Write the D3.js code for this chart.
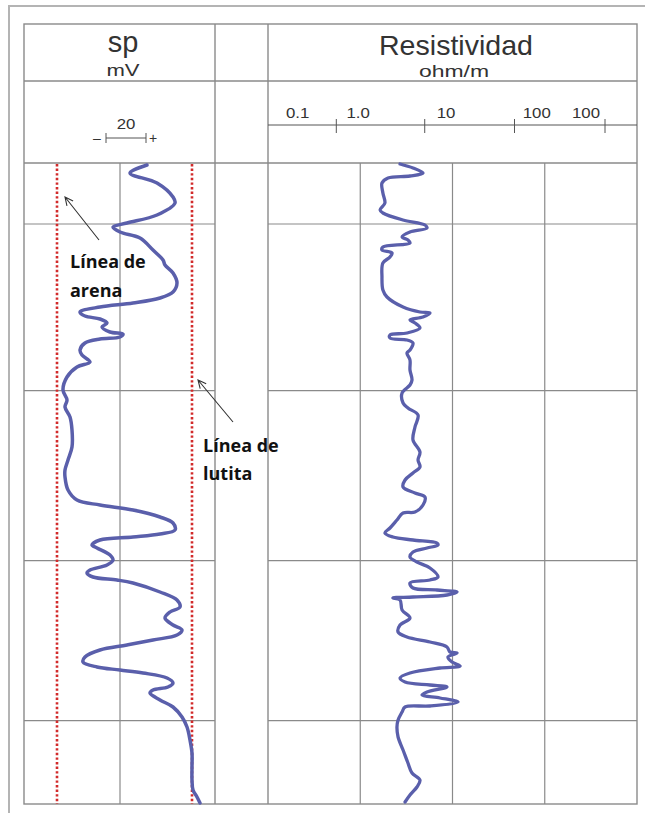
<!DOCTYPE html>
<html>
<head>
<meta charset="utf-8">
<script src="https://d3js.org/d3.v7.min.js"></script>
<style>
  body { margin: 0; background: #fff; }
  svg { display: block; }
</style>
</head>
<body>
<div id="log"></div>
<script>
// SP curve, depth (ft) and deflection (mV, relative to the track centre)
var spDepth = [2482.3, 2484.7, 2487.7, 2491.9, 2493.7, 2497.3, 2499.7, 2500.9, 2502.4, 2504.2,
  2507.8, 2510.8, 2512.3, 2514.7, 2517.7, 2520.4, 2522.2, 2523.7, 2524.9, 2526.4,
  2527.6, 2528.5, 2529.7, 2530.9, 2532.4, 2533.0, 2533.9, 2534.5, 2535.7, 2537.8,
  2539.3, 2541.4, 2542.9, 2545.9, 2549.8, 2552.8, 2554.9, 2557.9, 2561.8, 2566.9,
  2570.8, 2573.8, 2575.9, 2579.8, 2582.8, 2584.3, 2585.8, 2587.9, 2589.7, 2591.8,
  2593.0, 2593.9, 2594.8, 2596.3, 2597.2, 2599.3, 2600.8, 2602.3, 2603.8, 2604.7,
  2605.9, 2606.8, 2607.7, 2610.4, 2612.8, 2614.9, 2616.4, 2618.2, 2620.3, 2621.8,
  2623.3, 2624.8, 2626.3, 2627.8, 2629.9, 2631.4, 2632.9, 2633.8, 2634.7, 2636.2,
  2637.7, 2638.9, 2639.8, 2640.7, 2642.8, 2644.9, 2647.9, 2650.9, 2654.8, 2658.7,
  2662.9, 2666.8, 2669.8, 2671.9, 2673.7];
var spValue = [13.5, 5, 18.5, 26.5, 27.5, 18.5, 3.5, -3.5, 0, 10,
  16.5, 21.5, 22.5, 26.5, 28.5, 26.5, 20, 6.5, -10, -20,
  -17.5, -10, -6.5, -9, -5, 1.5, 0, -10, -17.5, -20,
  -19, -15, -21.5, -26.5, -28.5, -26.5, -27.5, -25, -24, -24,
  -26, -27.5, -27.5, -26, -21.5, -10, 6.5, 20, 26.5, 27.5,
  20, 6.5, -10, -14, -11.5, -5, -3.5, -6.5, -15, -16.5,
  -13.5, -1.5, 6.5, 20, 28.5, 30, 25, 22.5, 26.5, 31,
  28.5, 16.5, 3.5, -10, -17.5, -18.5, -11.5, 0, 11.5, 23.5,
  26.5, 24, 16.5, 15, 20, 26.5, 31, 33.5, 35, 36,
  36, 36, 36.5, 38.5, 40];

// resistivity curve, depth (ft) and ohm.m
var resDepth = [2482.0, 2483.2, 2484.7, 2485.6, 2486.2, 2487.7, 2490.7, 2493.7, 2495.8, 2496.7,
  2498.8, 2500.3, 2501.2, 2502.4, 2503.9, 2504.8, 2505.7, 2506.9, 2507.8, 2508.7,
  2509.9, 2511.7, 2515.9, 2519.8, 2521.9, 2524.9, 2526.4, 2526.7, 2527.9, 2528.8,
  2529.7, 2531.2, 2532.7, 2533.3, 2534.2, 2534.8, 2535.7, 2537.8, 2538.7, 2540.8,
  2543.8, 2546.8, 2548.3, 2550.7, 2553.7, 2555.2, 2557.3, 2560.9, 2564.8, 2568.4,
  2570.8, 2572.9, 2574.7, 2576.8, 2578.9, 2580.7, 2581.9, 2584.3, 2586.4, 2586.7,
  2588.8, 2591.2, 2592.7, 2593.9, 2594.8, 2595.7, 2596.3, 2597.2, 2598.4, 2599.9,
  2601.4, 2603.2, 2605.9, 2606.8, 2607.7, 2609.2, 2609.8, 2610.4, 2611.3, 2611.9,
  2612.2, 2612.8, 2615.8, 2618.2, 2620.3, 2622.4, 2623.9, 2625.4, 2626.9, 2628.4,
  2628.7, 2629.9, 2631.4, 2632.6, 2633.2, 2634.7, 2636.2, 2637.4, 2638.3, 2638.9,
  2640.4, 2641.3, 2642.2, 2643.4, 2644.6, 2644.9, 2646.4, 2648.8, 2650.9, 2653.9,
  2657.8, 2661.7, 2664.7, 2666.8, 2668.9, 2671.3, 2673.4];
var resValue = [2.7, 3.73, 4.79, 3.46, 2.0, 1.72, 1.76, 1.85, 1.64, 1.76,
  2.91, 5.03, 5.29, 3.46, 2.84, 3.29, 3.46, 1.76, 1.72, 2.21,
  2.1, 1.76, 1.72, 1.76, 1.95, 2.91, 4.44, 5.7, 4.79, 3.46,
  3.92, 4.44, 3.21, 2.1, 2.1, 3.21, 3.73, 3.46, 3.21, 3.46,
  3.46, 3.64, 3.46, 2.84, 2.91, 3.29, 4.23, 3.92, 3.73, 4.44,
  4.23, 4.44, 3.73, 3.06, 2.91, 3.92, 5.03, 4.79, 3.92, 2.91,
  2.5, 2.1, 1.85, 2.26, 3.73, 6.79, 6.96, 5.29, 3.73, 3.46,
  4.12, 5.7, 6.96, 5.7, 3.46, 3.73, 6.79, 11.2, 8.71, 3.73,
  2.26, 2.7, 2.84, 3.46, 2.7, 2.57, 3.21, 5.7, 8.71, 9.4,
  11.2, 8.93, 9.88, 12.1, 7.32, 3.46, 2.7, 3.06, 5.7, 8.71,
  5.29, 4.67, 7.32, 11.5, 5.7, 3.06, 2.84, 2.57, 2.5, 2.57,
  2.91, 3.29, 3.64, 4.44, 4.12, 3.46, 3.06];

var gridDepths = [2500, 2550, 2601, 2649];
var spSandLine = -31.5, spShaleLine = 36;
var resGrid = [1, 10, 100];
var resTicks = [0.55, 5, 47, 450];
var resLabels = ["0.1", "1.0", "10", "100", "100"];
var resLabelAt = [0.21, 0.95, 8.5, 82, 280];

var W = 645, H = 813;
var box = { left: 24, right: 637, top: 24, bottom: 804, head1: 81, head2: 163 };
var spTrack = [24, 215], resTrack = [268, 637];
var curveColor = "#5a5fab", gridColor = "#8a8a8a";

var svg = d3.select("#log").append("svg").attr("width", W).attr("height", H);

var y = d3.scaleLinear().domain([2481.7, 2674.0]).range([box.head2, box.bottom]);
var xSp = d3.scaleLinear().domain([-48, 47.5]).range(spTrack);
var xRes = d3.scaleLog().domain([0.1, 1000]).range(resTrack);

// outer picture frame
svg.append("path").attr("d", "M9," + H + "V6H" + W)
  .attr("fill", "none").attr("stroke", "#b4b4b4").attr("stroke-width", 2);

var grid = svg.append("g").attr("stroke", gridColor).attr("stroke-width", 1.2).attr("fill", "none");

// horizontal depth lines, only in the two data tracks
[spTrack, resTrack].forEach(function(t) {
  grid.selectAll(null).data(gridDepths).enter().append("line")
    .attr("x1", t[0]).attr("x2", t[1])
    .attr("y1", function(d) { return y(d); }).attr("y2", function(d) { return y(d); });
});

grid.append("line").attr("x1", xSp(0)).attr("x2", xSp(0)).attr("y1", box.head2).attr("y2", box.bottom);
grid.selectAll(null).data(resGrid).enter().append("line")
  .attr("x1", function(d) { return xRes(d); }).attr("x2", function(d) { return xRes(d); })
  .attr("y1", box.head2).attr("y2", box.bottom);

// table frame
var frame = svg.append("g").attr("stroke", gridColor).attr("stroke-width", 1.4).attr("fill", "none");
frame.append("rect").attr("x", box.left).attr("y", box.top)
  .attr("width", box.right - box.left).attr("height", box.bottom - box.top);
[spTrack[1], resTrack[0]].forEach(function(x) {
  frame.append("line").attr("x1", x).attr("x2", x).attr("y1", box.top).attr("y2", box.bottom);
});
[box.head1, box.head2].forEach(function(h) {
  frame.append("line").attr("x1", box.left).attr("x2", box.right).attr("y1", h).attr("y2", h);
});

// header texts; the original lettering is a bit wider than Liberation Sans,
// so the text gets stretched to the measured width
var font = "'Liberation Sans', Arial, sans-serif";
function txt(x, yy, s, size, stretch) {
  var t = svg.append("text").attr("x", x).attr("y", yy).text(s)
    .attr("font-family", font).attr("font-size", size).attr("fill", "#333")
    .attr("text-anchor", "middle");
  if (stretch) {
    t.attr("textLength", t.node().getComputedTextLength() * stretch)
      .attr("lengthAdjust", "spacingAndGlyphs");
  }
  return t;
}
txt(123, 52, "sp", 29);
txt(123, 76, "mV", 17, 1.3);
txt(456, 55, "Resistividad", 28, 1.02);
txt(454, 77, "ohm/m", 17, 1.35);

// sp scale bar 20 mV
var barY = 138, b0 = xSp(-7), b1 = xSp(13);
svg.append("path")
  .attr("d", "M" + b0 + "," + (barY - 5) + "V" + (barY + 5) + "M" + b0 + "," + barY + "H" + b1 +
    "M" + b1 + "," + (barY - 5) + "V" + (barY + 5))
  .attr("stroke", "#555").attr("stroke-width", 1).attr("fill", "none");
txt((b0 + b1) / 2, 129, "20", 14, 1.2);
txt(b0 - 9, 143, "\u2013", 14);
txt(b1 + 7, 143, "+", 14);

// resistivity scale line with ticks
var axisY = 125;
svg.append("line").attr("x1", resTrack[0]).attr("x2", resTrack[1]).attr("y1", axisY).attr("y2", axisY)
  .attr("stroke", "#555").attr("stroke-width", 1);
svg.selectAll(null).data(resTicks).enter().append("line")
  .attr("x1", function(d) { return xRes(d); }).attr("x2", function(d) { return xRes(d); })
  .attr("y1", axisY - 6).attr("y2", axisY + 8)
  .attr("stroke", "#555").attr("stroke-width", 1);
resLabels.forEach(function(s, i) { txt(xRes(resLabelAt[i]), 118, s, 14, 1.2); });

// sand and shale base lines
svg.selectAll(null).data([spSandLine, spShaleLine]).enter().append("line")
  .attr("x1", function(d) { return xSp(d); }).attr("x2", function(d) { return xSp(d); })
  .attr("y1", box.head2 + 1).attr("y2", box.bottom)
  .attr("stroke", "#d22b2b").attr("stroke-width", 2.6).attr("stroke-dasharray", "2.4 2.2");

// curves
var spLine = d3.line().curve(d3.curveCatmullRom.alpha(0.5))
  .x(function(d, i) { return xSp(spValue[i]); })
  .y(function(d) { return y(d); });
svg.append("path").attr("d", spLine(spDepth))
  .attr("fill", "none").attr("stroke", curveColor).attr("stroke-width", 3.5)
  .attr("stroke-linejoin", "round").attr("stroke-linecap", "round");

var resLine = d3.line().curve(d3.curveCatmullRom.alpha(0.5))
  .x(function(d, i) { return xRes(resValue[i]); })
  .y(function(d) { return y(d); });
svg.append("path").attr("d", resLine(resDepth))
  .attr("fill", "none").attr("stroke", curveColor).attr("stroke-width", 3.3)
  .attr("stroke-linejoin", "round").attr("stroke-linecap", "round");

// annotations
function arrow(x1, y1, x2, y2) {
  var a = Math.atan2(y2 - y1, x2 - x1), L = 9, s = 0.45;
  svg.append("path")
    .attr("d", "M" + x1 + "," + y1 + "L" + x2 + "," + y2 +
      "M" + (x2 - L * Math.cos(a - s)) + "," + (y2 - L * Math.sin(a - s)) + "L" + x2 + "," + y2 +
      "L" + (x2 - L * Math.cos(a + s)) + "," + (y2 - L * Math.sin(a + s)))
    .attr("fill", "none").attr("stroke", "#333").attr("stroke-width", 1.1);
}
arrow(99, 240, 65, 197);
arrow(233, 422, 198, 380);

function note(x, yy, s) {
  return svg.append("text").attr("x", x).attr("y", yy).text(s)
    .attr("font-family", "'Open Sans', sans-serif").attr("font-weight", "bold")
    .attr("font-size", 18).attr("fill", "#111");
}
note(70, 268, "L\u00ednea de");
note(70, 297, "arena");
note(203, 452, "L\u00ednea de");
note(203, 480, "lutita");
</script>
</body>
</html>
